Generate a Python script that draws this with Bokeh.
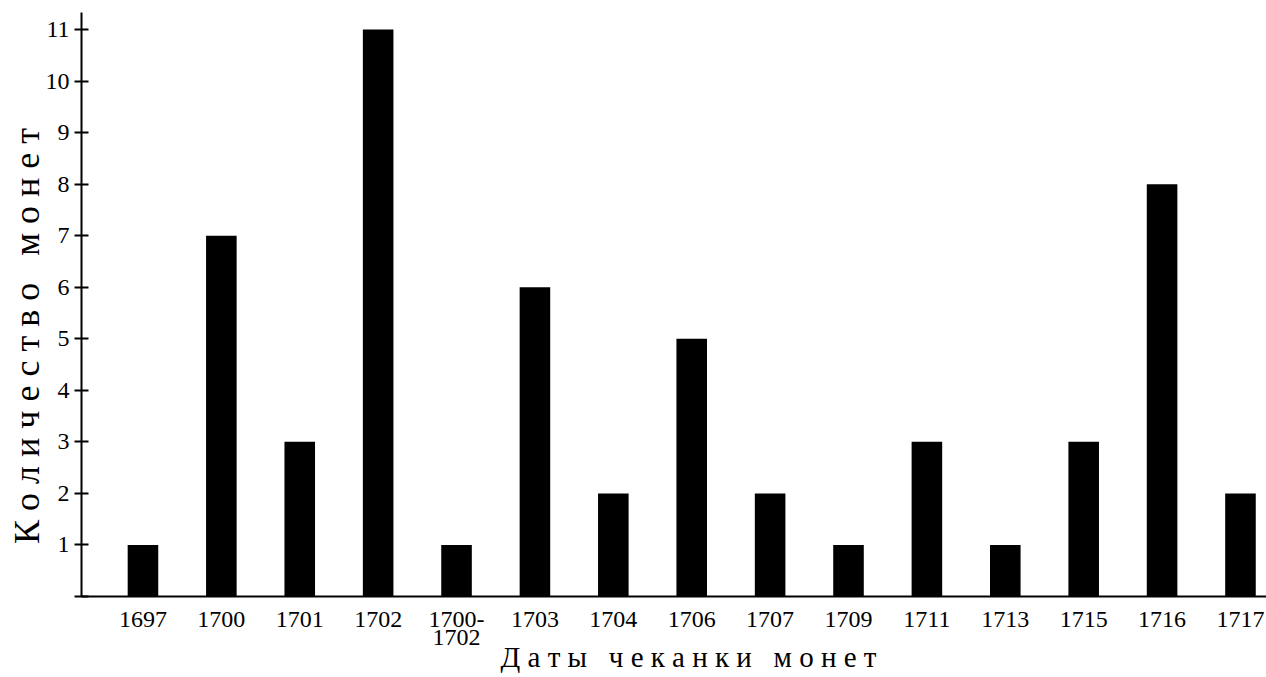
from bokeh.plotting import figure
from bokeh.models import FixedTicker, Range1d
from bokeh.embed import file_html
from bokeh.resources import INLINE

categories = ["1697", "1700", "1701", "1702", "1700-\n1702", "1703", "1704", "1706",
              "1707", "1709", "1711", "1713", "1715", "1716", "1717"]
counts = [1, 7, 3, 11, 1, 6, 2, 5, 2, 1, 3, 1, 3, 8, 2]
y_ticks = list(range(0, 12))
x_title = "Даты чеканки монет"
y_title = "Количество монет"

NB = "\u00a0"


def spaced(s):
    words = s.split(" ")
    return (NB * 3).join(NB.join(list(w)) for w in words)


xs = list(range(len(categories)))
FONT = "Liberation Serif"
X0, X1 = -0.784, 14.332
Y0, Y1 = 0, 11.33

p = figure(width=1266, height=677, output_backend="svg", toolbar_location=None,
           x_range=Range1d(X0, X1), y_range=Range1d(Y0, Y1),
           min_border_left=81, min_border_right=0, min_border_top=12, min_border_bottom=81)
p.outline_line_color = None
p.xgrid.grid_line_color = None
p.ygrid.grid_line_color = None
p.background_fill_color = "white"
p.border_fill_color = "white"

p.vbar(x=xs, top=counts, bottom=0, width=0.39, fill_color="black", line_color=None)

xa = p.xaxis[0]
xa.ticker = FixedTicker(ticks=xs)
xa.major_label_overrides = {i: c for i, c in enumerate(categories)}
xa.major_tick_line_color = None
xa.minor_tick_line_color = None
xa.axis_line_width = 2
xa.axis_line_color = "black"
xa.major_label_text_font = FONT
xa.major_label_text_font_size = "24px"
xa.major_label_text_color = "black"
xa.major_label_text_line_height = 0.72
xa.major_label_standoff = 3
xa.axis_label = NB * 4 + spaced(x_title)
xa.axis_label_text_font = FONT
xa.axis_label_text_font_size = "29px"
xa.axis_label_text_font_style = "normal"
xa.axis_label_text_color = "black"
xa.axis_label_text_line_height = 0.9
xa.axis_label_standoff = -12

ya = p.yaxis[0]
ya.ticker = FixedTicker(ticks=y_ticks)
ya.major_label_overrides = {0: ""}
ya.major_tick_in = 7
ya.major_tick_out = 7
ya.major_tick_line_width = 2
ya.minor_tick_line_color = None
ya.axis_line_width = 2
ya.axis_line_color = "black"
ya.major_label_text_font = FONT
ya.major_label_text_font_size = "24px"
ya.major_label_text_color = "black"
ya.major_label_standoff = 5
ya.axis_label = spaced(y_title) + NB * 7
ya.axis_label_text_font = FONT
ya.axis_label_text_font_size = "36px"
ya.axis_label_text_font_style = "normal"
ya.axis_label_text_color = "black"
ya.axis_label_text_line_height = 0.9
ya.axis_label_standoff = -4

open("out.html", "w").write(file_html(p, INLINE))
